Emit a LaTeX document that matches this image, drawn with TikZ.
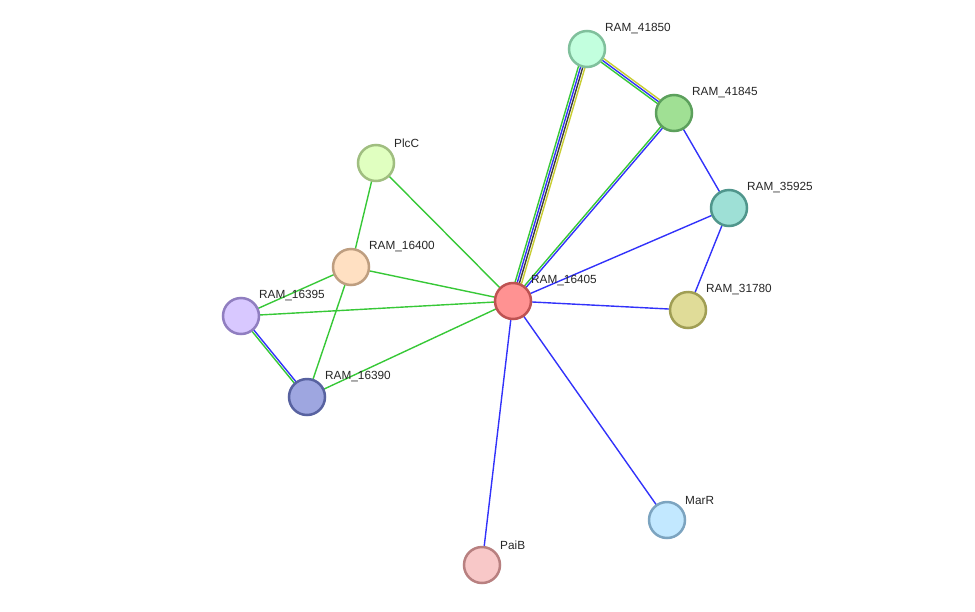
\documentclass[tikz,border=0pt]{standalone}
\usepackage{fontspec}
\setmainfont{Liberation Sans}
\usetikzlibrary{calc,backgrounds}
\definecolor{lnkgreen}{RGB}{55,200,55}
\definecolor{lnkblue}{RGB}{50,50,250}
\definecolor{lnkyellow}{RGB}{200,205,50}
\definecolor{lnkblack}{RGB}{60,60,60}
% node fills and rims
\definecolor{mintF}{RGB}{194,255,222}   \definecolor{mintD}{RGB}{128,192,156}
\definecolor{greenF}{RGB}{160,224,148}  \definecolor{greenD}{RGB}{92,160,92}
\definecolor{tealF}{RGB}{158,224,214}   \definecolor{tealD}{RGB}{80,150,140}
\definecolor{oliveF}{RGB}{224,220,152}  \definecolor{oliveD}{RGB}{160,158,84}
\definecolor{redF}{RGB}{255,146,146}    \definecolor{redD}{RGB}{190,82,82}
\definecolor{limeF}{RGB}{224,255,192}   \definecolor{limeD}{RGB}{160,190,128}
\definecolor{peachF}{RGB}{255,224,194}  \definecolor{peachD}{RGB}{190,158,128}
\definecolor{lilacF}{RGB}{216,200,255}  \definecolor{lilacD}{RGB}{144,126,192}
\definecolor{indigoF}{RGB}{158,166,224} \definecolor{indigoD}{RGB}{88,98,160}
\definecolor{skyF}{RGB}{194,232,255}    \definecolor{skyD}{RGB}{124,164,192}
\definecolor{pinkF}{RGB}{248,200,200}   \definecolor{pinkD}{RGB}{184,128,128}
\tikzset{
  prot/.style={circle,fill=#1F,draw=#1D,line width=2.5pt,minimum size=36pt,inner sep=0pt},
  lbl/.style={font=\fontsize{11.8}{13}\selectfont,text=black!85,inner sep=0pt,anchor=west},
  link/.style={line width=1.4pt,draw=#1},
  link/.default=lnkgreen,
}
% one line of an edge, shifted sideways by #3
\newcommand{\pline}[4]{%
  \draw[link=#4] ($(#1.center)!#3!90:(#2.center)$) -- ($(#2.center)!#3!-90:(#1.center)$);}
% protein node with its label
\newcommand{\prot}[5]{%
  \node[prot=#4] (#1) at (#2,#3) {};
  \node[lbl] (#1-lbl) at ([shift={(18,-20)}]#1.center) {#5};}

\begin{document}
\begin{tikzpicture}[x=1pt,y=-1pt]
  \useasboundingbox (0,0) rectangle (975,611);
  % proteins
  \prot{p41850}{587}{49}{mint}{RAM\_41850}
  \prot{p41845}{674}{113}{green}{RAM\_41845}
  \prot{p35925}{729}{208}{teal}{RAM\_35925}
  \prot{p31780}{688}{310}{olive}{RAM\_31780}
  \prot{p16405}{513}{301}{red}{RAM\_16405}
  \prot{plcC}{376}{163}{lime}{PlcC}
  \prot{p16400}{351}{267}{peach}{RAM\_16400}
  \prot{p16395}{241}{316}{lilac}{RAM\_16395}
  \prot{p16390}{307}{397}{indigo}{RAM\_16390}
  \prot{marR}{667}{520}{sky}{MarR}
  \prot{paiB}{482}{565}{pink}{PaiB}

  \begin{scope}[on background layer]
    % multi-evidence edges
    \pline{p16405}{p41850}{3.3pt}{lnkgreen}
    \pline{p16405}{p41850}{1.1pt}{lnkblue}
    \pline{p16405}{p41850}{-1.1pt}{lnkblack}
    \pline{p16405}{p41850}{-3.3pt}{lnkyellow}
    \pline{p41850}{p41845}{2.2pt}{lnkyellow}
    \pline{p41850}{p41845}{0pt}{lnkblue}
    \pline{p41850}{p41845}{-2.2pt}{lnkgreen}
    \pline{p16405}{p41845}{1.1pt}{lnkgreen}
    \pline{p16405}{p41845}{-1.1pt}{lnkblue}
    \pline{p16395}{p16390}{1.1pt}{lnkblue}
    \pline{p16395}{p16390}{-1.1pt}{lnkgreen}
    % single edges
    \draw[link=lnkblue] (p16405.center) -- (p35925.center);
    \draw[link=lnkblue] (p16405.center) -- (p31780.center);
    \draw[link=lnkblue] (p41845.center) -- (p35925.center);
    \draw[link=lnkblue] (p35925.center) -- (p31780.center);
    \draw[link=lnkblue] (p16405.center) -- (marR.center);
    \draw[link=lnkblue] (p16405.center) -- (paiB.center);
    \draw[link] (p16405.center) -- (plcC.center);
    \draw[link] (p16405.center) -- (p16400.center);
    \draw[link] (p16405.center) -- (p16395.center);
    \draw[link] (p16405.center) -- (p16390.center);
    \draw[link] (plcC.center) -- (p16400.center);
    \draw[link] (p16400.center) -- (p16390.center);
    \draw[link] (p16395.center) -- (p16400.center);
  \end{scope}
\end{tikzpicture}
\end{document}
